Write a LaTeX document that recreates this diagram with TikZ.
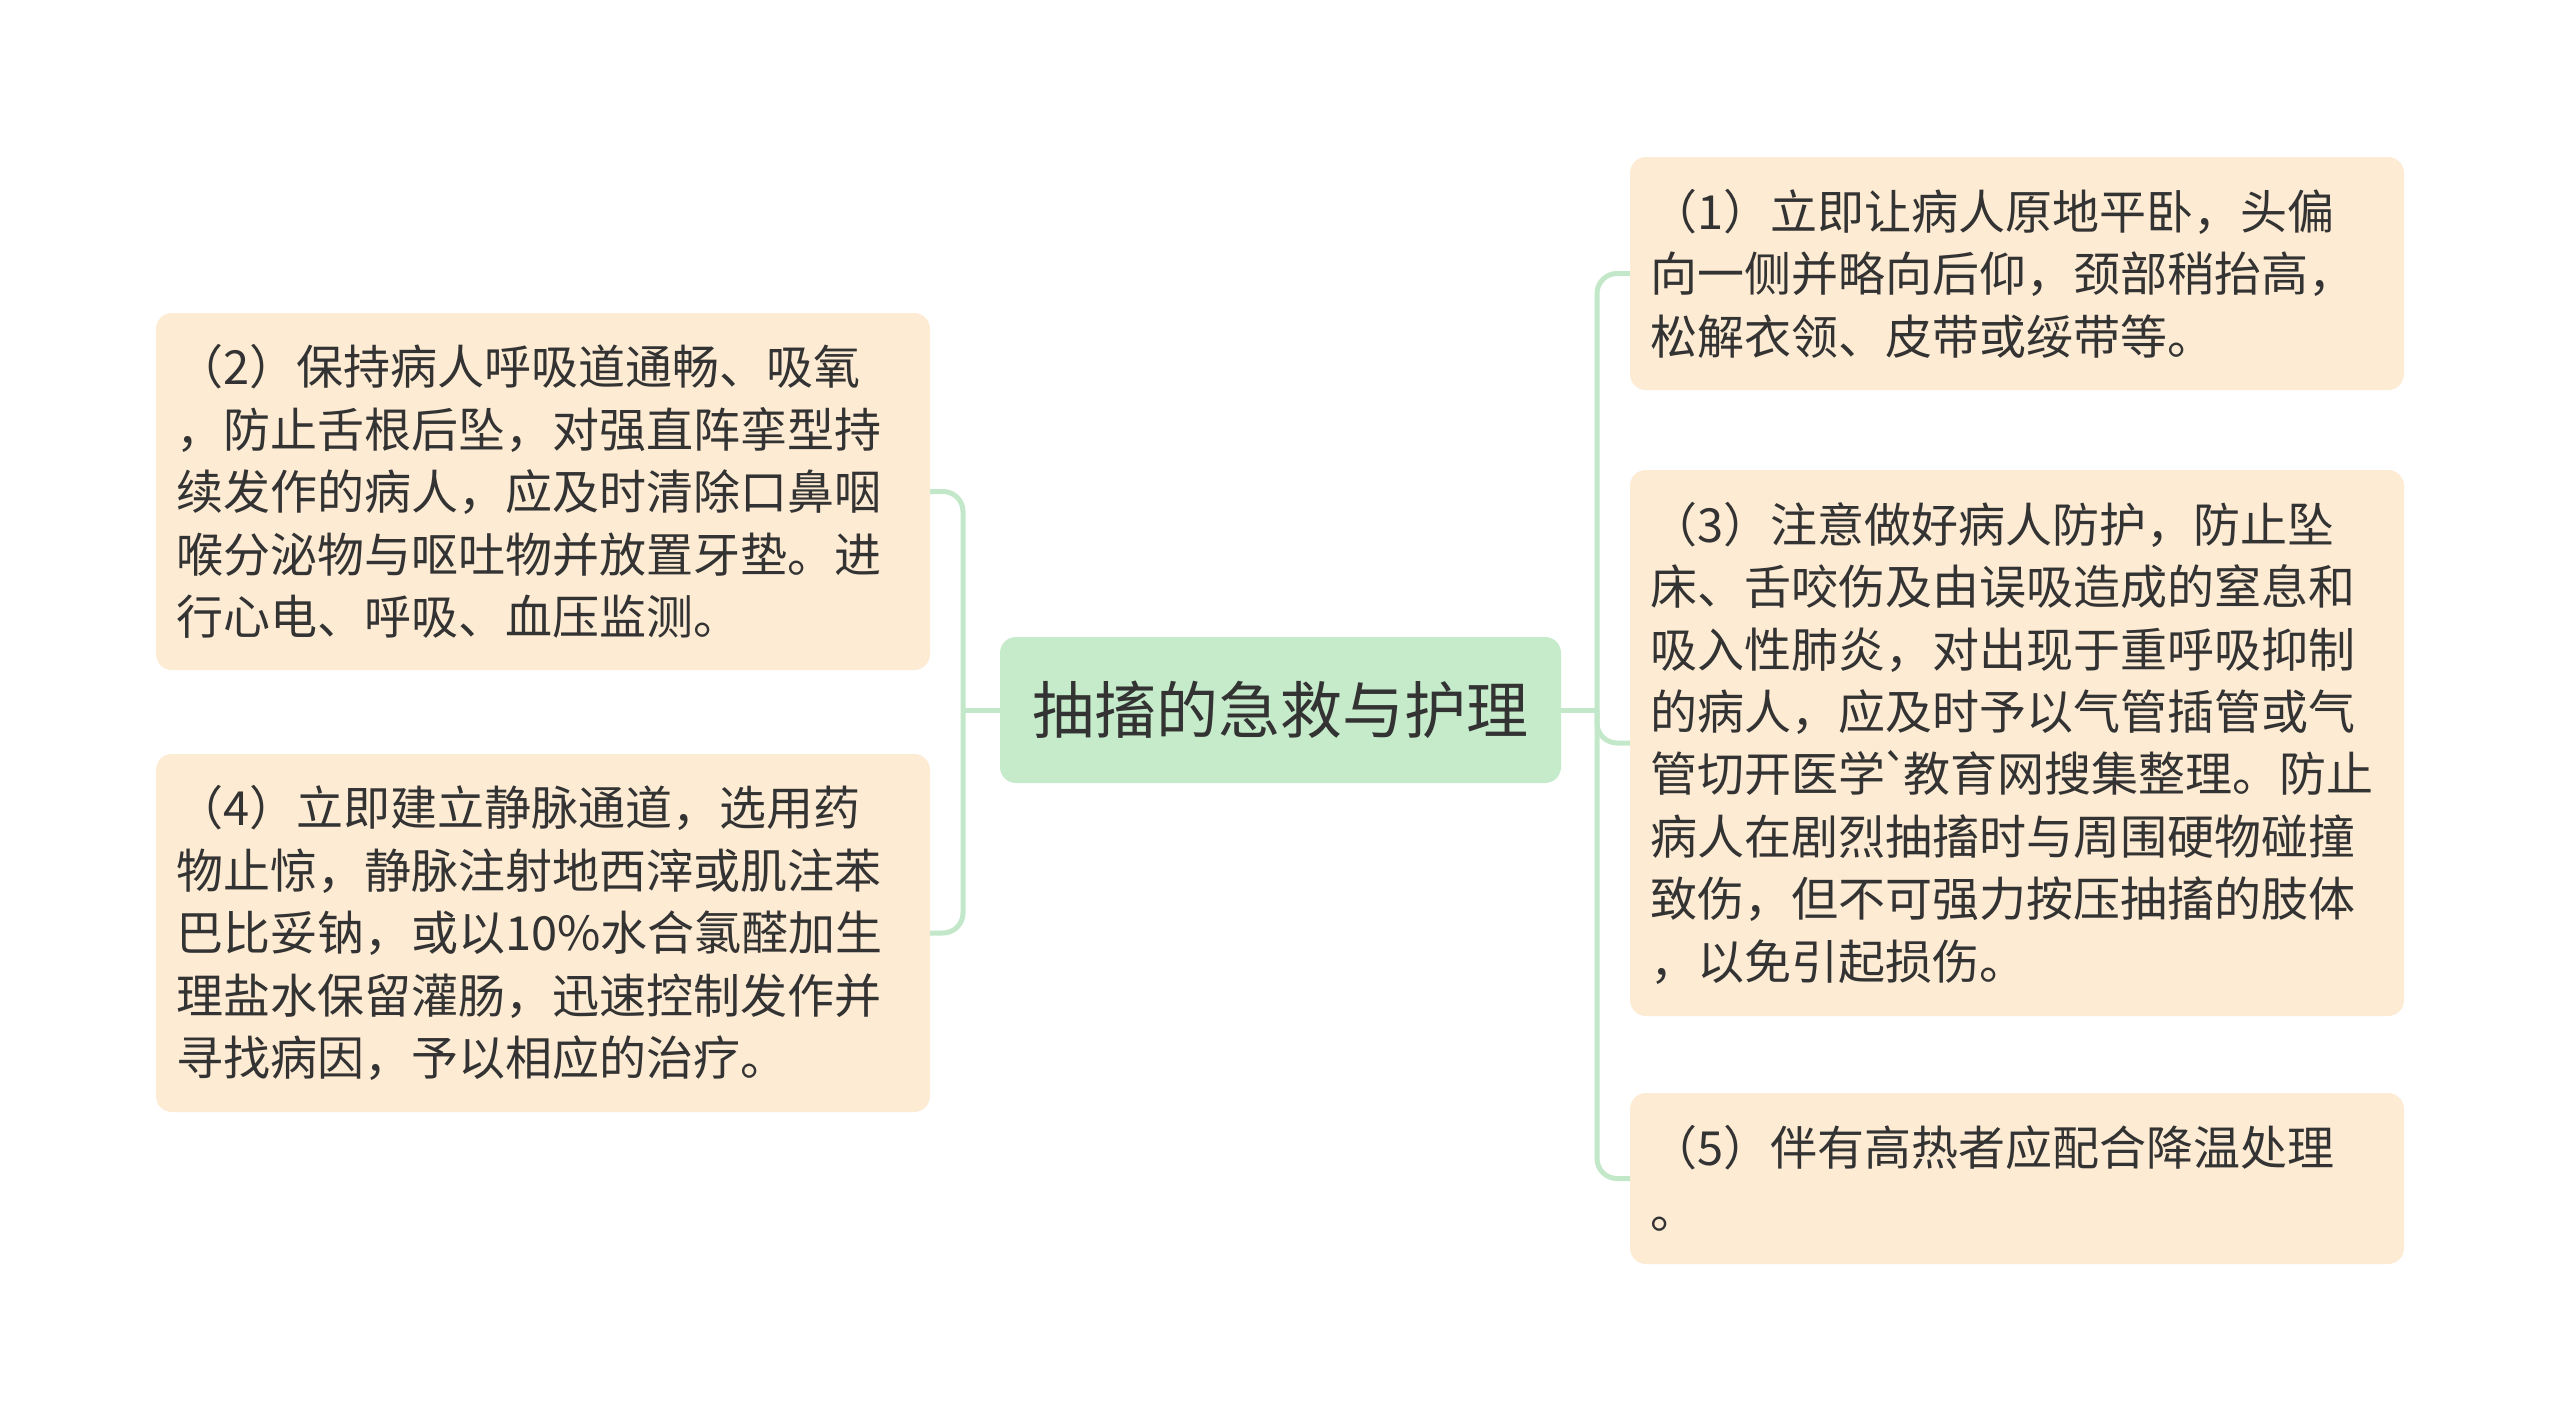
\documentclass[tikz,border=0pt]{standalone}
\usepackage{fontspec}
\newfontfamily\cjk{Noto Sans CJK SC}
\definecolor{peach}{HTML}{FDEBD3}
\definecolor{mint}{HTML}{C5EBCA}
\definecolor{linkc}{HTML}{C3E8C9}
\definecolor{txt}{HTML}{333333}
\tikzset{
  leaf/.style={fill=peach, rounded corners=16pt, text width=734pt, inner xsep=20pt, inner ysep=0pt,
    align=left, text=txt, font=\cjk\fontsize{47}{62.4}\selectfont},
  rootnode/.style={fill=mint, rounded corners=16pt, minimum width=561pt, minimum height=146pt,
    inner sep=0pt, text=txt, font=\cjk\fontsize{62}{70}\selectfont},
  link/.style={draw=linkc, line width=5pt, rounded corners=20pt}
}
\begin{document}
\begin{tikzpicture}[x=1pt,y=-1pt]
\useasboundingbox (0,0) rectangle (2560,1421);
\fill[white] (0,0) rectangle (2560,1421);

\node[rootnode] (c) at (1280.5,710) {抽搐的急救与护理};

\node[leaf, minimum height=357pt] (n2) at (543,491.5) {（2）保持病人呼吸道通畅、吸氧\\，防止舌根后坠，对强直阵挛型持\\续发作的病人，应及时清除口鼻咽\\喉分泌物与呕吐物并放置牙垫。进\\行心电、呼吸、血压监测。};

\node[leaf, minimum height=358pt] (n4) at (543,933) {（4）立即建立静脉通道，选用药\\物止惊，静脉注射地西滓或肌注苯\\巴比妥钠，或以10\%水合氯醛加生\\理盐水保留灌肠，迅速控制发作并\\寻找病因，予以相应的治疗。};

\node[leaf, minimum height=233pt] (n1) at (2017,273.5) {（1）立即让病人原地平卧，头偏\\向一侧并略向后仰，颈部稍抬高，\\松解衣领、皮带或绥带等。};

\node[leaf, minimum height=546pt] (n3) at (2017,743) {（3）注意做好病人防护，防止坠\\床、舌咬伤及由误吸造成的窒息和\\吸入性肺炎，对出现于重呼吸抑制\\的病人，应及时予以气管插管或气\\管切开医学\kern-4pt`\kern-6pt教育网搜集整理。防止\\病人在剧烈抽搐时与周围硬物碰撞\\致伤，但不可强力按压抽搐的肢体\\，以免引起损伤。};

\node[leaf, minimum height=171pt] (n5) at (2017,1178.5) {（5）伴有高热者应配合降温处理\\。};

\coordinate (lj) at (963,710);
\coordinate (rj) at (1597,710);

\draw[link] (c.west) -- (lj);
\draw[link] (lj) |- (n2.east);
\draw[link] (lj) |- (n4.east);
\draw[link] (c.east) -- (rj);
\draw[link] (rj) |- (n1.west);
\draw[link] (rj) |- (n3.west);
\draw[link] (rj) |- (n5.west);
\end{tikzpicture}
\end{document}
